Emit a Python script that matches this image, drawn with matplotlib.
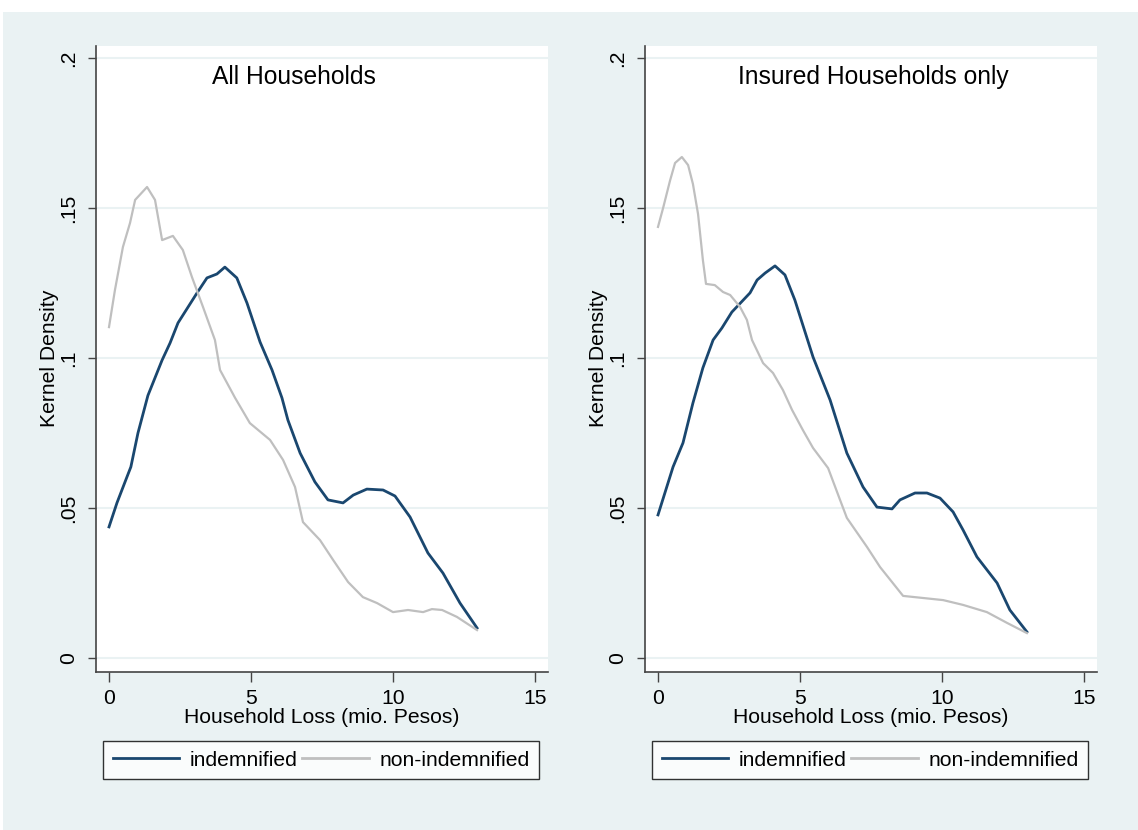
import matplotlib.pyplot as plt
from matplotlib.patches import Rectangle

plt.rcParams['font.family'] = ['Liberation Sans', 'DejaVu Sans']

# All households
all_ind_x = [0, 0.28, 0.63, 0.77, 1.02, 1.37, 1.87, 2.15, 2.43, 3.1, 3.45, 3.8, 4.08, 4.5, 4.86,
             5.32, 5.74, 6.09, 6.3, 6.73, 7.25, 7.71, 8.24, 8.6, 9.08, 9.65, 10.07, 10.6, 11.23,
             11.76, 12.36, 12.96]
all_ind_y = [0.0437, 0.0517, 0.0603, 0.0637, 0.075, 0.0875, 0.0993, 0.105, 0.1117, 0.1217, 0.1267,
             0.128, 0.1303, 0.1267, 0.1183, 0.1053, 0.096, 0.0867, 0.0793, 0.0683, 0.0587, 0.0527,
             0.0517, 0.0543, 0.0563, 0.056, 0.054, 0.047, 0.035, 0.0283, 0.0183, 0.010]
all_non_x = [0, 0.21, 0.49, 0.74, 0.92, 1.34, 1.62, 1.87, 2.25, 2.6, 2.92, 3.31, 3.73, 3.91, 4.44,
             4.96, 5.67, 6.13, 6.55, 6.83, 7.43, 7.89, 8.42, 8.94, 9.44, 10.0, 10.53, 11.06, 11.37,
             11.73, 12.25, 12.96]
all_non_y = [0.1103, 0.1227, 0.137, 0.145, 0.1527, 0.157, 0.1527, 0.1393, 0.1407, 0.136, 0.127,
             0.117, 0.106, 0.096, 0.0867, 0.0783, 0.0727, 0.066, 0.057, 0.0453, 0.0393, 0.0327,
             0.0253, 0.0203, 0.0183, 0.0153, 0.016, 0.0153, 0.0163, 0.016, 0.0137, 0.0093]

# Insured households only
ins_ind_x = [0, 0.53, 0.88, 1.23, 1.58, 1.94, 2.25, 2.6, 3.24, 3.49, 3.77, 4.12, 4.47, 4.82, 5.46,
             6.06, 6.65, 7.22, 7.71, 8.24, 8.52, 9.05, 9.47, 9.93, 10.39, 10.74, 11.23, 11.94,
             12.39, 12.99]
ins_ind_y = [0.0477, 0.0637, 0.0717, 0.085, 0.0967, 0.106, 0.11, 0.1153, 0.1217, 0.126, 0.1283,
             0.1307, 0.1277, 0.1193, 0.1003, 0.086, 0.0683, 0.057, 0.0503, 0.0497, 0.0527, 0.055,
             0.055, 0.0533, 0.0487, 0.0427, 0.0337, 0.025, 0.016, 0.0087]
ins_non_x = [0, 0.18, 0.42, 0.6, 0.84, 1.06, 1.23, 1.41, 1.58, 1.69, 2.0, 2.29, 2.54, 2.89, 3.13,
             3.31, 3.7, 4.05, 4.4, 4.72, 5.1, 5.46, 5.99, 6.41, 6.65, 7.36, 7.82, 8.63, 10.04,
             10.74, 11.58, 12.29, 12.99]
ins_non_y = [0.1437, 0.150, 0.159, 0.165, 0.167, 0.1643, 0.158, 0.148, 0.1327, 0.1247, 0.1243,
             0.122, 0.121, 0.117, 0.1127, 0.106, 0.0983, 0.095, 0.0893, 0.0827, 0.076, 0.07,
             0.0633, 0.0527, 0.0467, 0.037, 0.0303, 0.0207, 0.0193, 0.0177, 0.0153, 0.0117, 0.0083]

titles = ['All Households', 'Insured Households only']
yticks = [0, 0.05, 0.1, 0.15, 0.2]
ytick_labels = ['0', '.05', '.1', '.15', '.2']
xticks = [0, 5, 10, 15]

W, H = 1138, 830
bg = '#EAF2F3'
navy = '#1A476F'
grey = '#BFBFBF'
fs = 15.2

fig = plt.figure(figsize=(W / 100, H / 100), dpi=100, facecolor='white')
fig.patches.append(Rectangle((3 / W, 0), 1, 1 - 12 / H, transform=fig.transFigure,
                             facecolor=bg, edgecolor='none', zorder=-10))

panels = [(96, all_ind_x, all_ind_y, all_non_x, all_non_y, 294, 103),
          (645, ins_ind_x, ins_ind_y, ins_non_x, ins_non_y, 873, 652)]

for i, (left_px, ix, iy, nx, ny, title_px, leg_px) in enumerate(panels):
    ax = fig.add_axes([left_px / W, 1 - 672 / H, 452 / W, 626 / H])
    ax.set_facecolor('white')
    ax.plot(ix, iy, color=navy, lw=2.0, label='indemnified')
    ax.plot(nx, ny, color=grey, lw=1.6, label='non-indemnified')
    ax.set_xlim(-13 / 28.4, 439 / 28.4)
    ax.set_ylim(-14 / 3000, 0.2 + 12 / 3000)
    ax.set_yticks(yticks)
    ax.set_yticklabels(ytick_labels, rotation=90, va='center', fontsize=fs)
    ax.set_xticks(xticks)
    ax.set_xticklabels([str(t) for t in xticks], fontsize=fs)
    ax.grid(axis='y', color=bg, lw=1.5)
    ax.set_axisbelow(True)
    for s in ['top', 'right']:
        ax.spines[s].set_visible(False)
    for s in ['left', 'bottom']:
        ax.spines[s].set_color('#444444')
        ax.spines[s].set_linewidth(1.2)
    ax.tick_params(axis='y', length=6, width=1, color='#444444', pad=7)
    ax.tick_params(axis='x', length=7.5, width=1, color='#444444', pad=5)
    ax.set_xlabel('Household Loss (mio. Pesos)', fontsize=fs)
    ax.xaxis.set_label_coords(0.5, -(708 - 672) / 626)
    ax.set_ylabel('Kernel Density', fontsize=fs)
    ax.yaxis.set_label_coords(-(96 - 59) / 452, (672 - 358) / 626)
    ax.text(title_px / W, 1 - 77 / H, titles[i], transform=fig.transFigure,
            ha='center', va='center', fontsize=17.7)
    leg = ax.legend(loc='upper left', bbox_to_anchor=(leg_px / W, 1 - 741 / H),
                    bbox_transform=fig.transFigure, ncol=2, fontsize=fs, frameon=True,
                    fancybox=False, shadow=False, borderpad=0.45, borderaxespad=0,
                    handlelength=3.17, handletextpad=0.47, columnspacing=0.25)
    leg.get_frame().set_edgecolor('black')
    leg.get_frame().set_linewidth(1.0)
    for line in leg.get_lines():
        line.set_linewidth(2.0)

fig.savefig('out.png', dpi=100, facecolor=fig.get_facecolor())
